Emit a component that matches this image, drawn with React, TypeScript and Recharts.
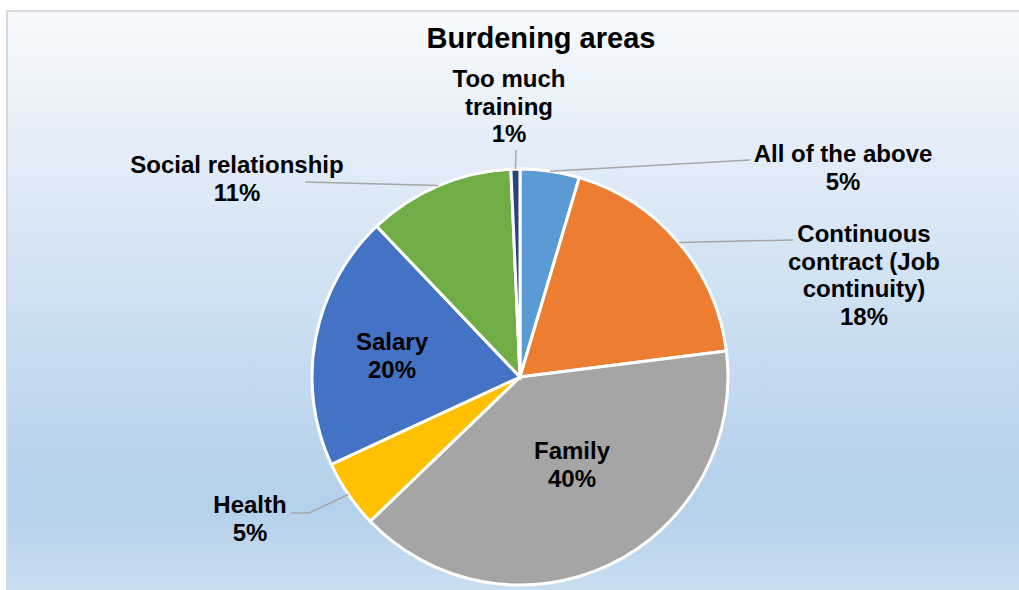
import { PieChart, Pie, Cell } from "recharts"

const CATEGORIES = [
  "All of the above",
  "Continuous contract (Job continuity)",
  "Family",
  "Health",
  "Salary",
  "Social relationship",
  "Too much training",
]

// share of answers
const VALUES = [4.6, 18.4, 39.8, 5.3, 19.8, 11.4, 0.7]

// how each category name wraps in the label
const LABEL_LINES = [
  ["All of the above"],
  ["Continuous", "contract (Job", "continuity)"],
  ["Family"],
  ["Health"],
  ["Salary"],
  ["Social relationship"],
  ["Too much", "training"],
]

const COLORS = ["#5b9bd5", "#ed7d31", "#a5a5a5", "#ffc000", "#4472c4", "#70ad47", "#264478"]

const data = CATEGORIES.map((name, i) => ({ name, value: VALUES[i] }))

const CX = 520
const CY = 377
const RADIUS = 208
const LINE_H = 27.5
const FONT = "'Liberation Sans', Arial, sans-serif"

// label text position (centre x, first baseline) and leader line bends, relative to pie centre
const LABEL_LAYOUT: { dx: number; dy: number; line: number[][] | null }[] = [
  { dx: 323, dy: -215, line: [[230, -217]] },
  { dx: 344, dy: -135, line: [[273, -137]] },
  { dx: 52, dy: 82, line: null },
  { dx: -270, dy: 136, line: [[-211, 136], [-229, 136]] },
  { dx: -128, dy: -27, line: null },
  { dx: -283, dy: -204, line: [[-215, -195]] },
  { dx: -11, dy: -290, line: [[-4, -227]] },
]

const RAD = Math.PI / 180

function renderLabel(props: any) {
  const { cx, cy, midAngle, outerRadius, percent, index } = props
  const layout = LABEL_LAYOUT[index]
  const lines = [...LABEL_LINES[index], `${Math.round(percent * 100)}%`]
  const tx = cx + layout.dx
  const ty = cy + layout.dy
  let leader = null
  if (layout.line) {
    const sx = cx + outerRadius * Math.cos(-midAngle * RAD)
    const sy = cy + outerRadius * Math.sin(-midAngle * RAD)
    const pts = [[sx, sy], ...layout.line.map(([x, y]) => [cx + x, cy + y])]
    leader = (
      <polyline
        points={pts.map((p) => p.join(",")).join(" ")}
        fill="none"
        stroke="#a6a6a6"
        strokeWidth={1.5}
      />
    )
  }
  return (
    <g key={`label-${index}`}>
      {leader}
      <text
        x={tx}
        y={ty}
        textAnchor="middle"
        fontFamily={FONT}
        fontWeight="bold"
        fontSize={24}
        fill="#000"
      >
        {lines.map((t, i) => (
          <tspan key={i} x={tx} y={ty + i * LINE_H}>
            {t}
          </tspan>
        ))}
      </text>
    </g>
  )
}

export default function App() {
  return (
    <div style={{ position: "absolute", left: 0, top: 0, width: 1019, height: 590, overflow: "hidden", background: "#fff" }}>
      <div
        style={{
          position: "absolute",
          left: 6,
          top: 10,
          width: 1030,
          height: 590,
          borderTop: "2px solid #d9d9d9",
          borderLeft: "2px solid #d9d9d9",
          background:
            "linear-gradient(to bottom, #f7fafd 0%, #d9e7f5 35%, #b7d2ec 78%, #b4d0eb 84%, #cde0f2 100%)",
        }}
      />
      <div
        style={{
          position: "absolute",
          left: 0,
          top: 22,
          width: 1082,
          textAlign: "center",
          fontFamily: FONT,
          fontWeight: "bold",
          fontSize: 29,
          color: "#000",
        }}
      >
        Burdening areas
      </div>
      <div style={{ position: "absolute", left: 0, top: 0 }}>
        <PieChart width={1019} height={590} margin={{ top: 0, right: 0, bottom: 0, left: 0 }}>
          <Pie
            data={data}
            dataKey="value"
            nameKey="name"
            cx={CX}
            cy={CY}
            outerRadius={RADIUS}
            startAngle={90}
            endAngle={-270}
            stroke="#fff"
            strokeWidth={3}
            label={renderLabel}
            labelLine={false}
            isAnimationActive={false}
          >
            {data.map((_, index) => (
              <Cell key={index} fill={COLORS[index % COLORS.length]} />
            ))}
          </Pie>
        </PieChart>
      </div>
    </div>
  )
}
